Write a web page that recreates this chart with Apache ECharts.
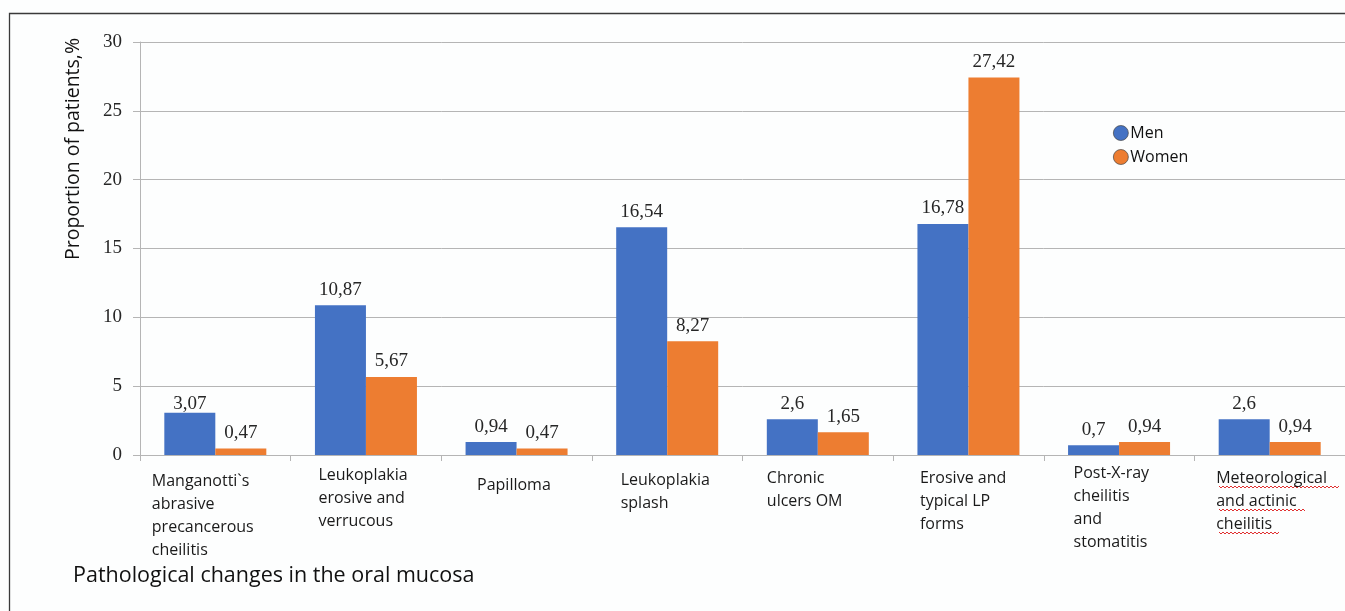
<!DOCTYPE html>
<html>
<head>
<meta charset="utf-8">
<title>Pathological changes in the oral mucosa</title>
<script src="https://cdn.jsdelivr.net/npm/echarts/dist/echarts.min.js"></script>
<style>
  html, body { margin: 0; padding: 0; background: #fdfefe; }
  #chart { width: 1345px; height: 611px; }
</style>
</head>
<body>
<div id="chart"></div>
<script>
// Share of patients (%) by pathological change of the oral mucosa
const categories = [
  "Manganotti`s\nabrasive\nprecancerous\ncheilitis",
  "Leukoplakia\nerosive and\nverrucous",
  "Papilloma",
  "Leukoplakia\nsplash",
  "Chronic\nulcers OM",
  "Erosive and\ntypical LP\nforms",
  "Post-X-ray\ncheilitis\nand\nstomatitis",
  "Meteorological\nand actinic\ncheilitis"
];
const menValues   = [3.07, 10.87, 0.94, 16.54, 2.6, 16.78, 0.7, 2.6];
const womenValues = [0.47, 5.67, 0.47, 8.27, 1.65, 27.42, 0.94, 0.94];
const seriesNames = ["Men", "Women"];
const yTicks = [0, 5, 10, 15, 20, 25, 30];

// per-category label block width and extra top offset (px)
const labelBoxWidth = [127, 95, 79, 93, 102, 97, 91, 107];
const labelTopShift = [8, 2, 12, 7, 5, 5, 0, 5];

const SANS = "'Open Sans', 'Noto Sans', sans-serif";
const SERIF = "'Liberation Serif', 'DejaVu Serif', serif";
const GRID_COLOR = "#b5b5b5";

const rich = {};
categories.forEach((c, i) => {
  rich["c" + i] = {
    width: labelBoxWidth[i], align: "left", fontFamily: SANS, fontSize: 16,
    color: "#1a1a1a", lineHeight: 23
  };
  rich["s" + i] = {
    width: labelBoxWidth[i], fontSize: 1, lineHeight: labelTopShift[i], height: labelTopShift[i]
  };
});

const fmtValue = v => String(v).replace(".", ",");

const valueLabel = {
  show: true, position: "top", distance: 6,
  fontFamily: SERIF, fontSize: 19, color: "#262626",
  formatter: p => fmtValue(p.value)
};

// the first men's label sits closer to its bar
const menData = menValues.map((v, i) => i === 0 ? { value: v, label: { distance: -1 } } : v);

// red spell-check underline under the last category label
function wavy(x0, x1, y) {
  const pts = [];
  let up = true;
  for (let x = x0; x <= x1; x += 2) { pts.push([x, up ? y - 1 : y + 1]); up = !up; }
  return {
    type: "polyline", silent: true, shape: { points: pts },
    style: { stroke: "#e03030", lineWidth: 1, fill: null }
  };
}

const chart = echarts.init(document.getElementById("chart"), null, { renderer: "canvas" });
chart.setOption({
  backgroundColor: "#fdfefe",
  animation: false,
  title: {
    text: "Pathological changes in the oral mucosa",
    left: 68, top: 560,
    textStyle: { fontFamily: SANS, fontSize: 21.5, fontWeight: "normal", color: "#111" }
  },
  legend: {
    orient: "vertical", left: 1108, top: 120,
    itemWidth: 15, itemHeight: 15, itemGap: 8,
    icon: "circle",
    itemStyle: { borderColor: "#444", borderWidth: 0.7 },
    textStyle: { fontFamily: SANS, fontSize: 16, color: "#111", padding: [0, 0, 0, -3] },
    data: seriesNames
  },
  grid: { left: 140, top: 42, width: 1208, height: 413, containLabel: false },
  xAxis: {
    type: "category",
    data: categories,
    axisLine: { show: true, lineStyle: { color: GRID_COLOR, width: 1 } },
    axisTick: { show: true, length: 6, alignWithLabel: false, lineStyle: { color: GRID_COLOR } },
    splitLine: { show: false },
    axisLabel: {
      interval: 0, margin: 7, verticalAlign: "top",
      rich: rich,
      formatter: (val, idx) =>
        (labelTopShift[idx] > 0 ? "{s" + idx + "| }\n" : "") +
        val.split("\n").map(line => "{c" + idx + "|" + line + "}").join("\n")
    }
  },
  yAxis: {
    type: "value",
    min: 0, max: 30, interval: 5,
    axisLine: { show: true, lineStyle: { color: GRID_COLOR, width: 1 } },
    axisTick: { show: true, length: 7, lineStyle: { color: GRID_COLOR } },
    splitLine: { show: true, lineStyle: { color: GRID_COLOR, width: 1 } },
    axisLabel: {
      margin: 18, fontFamily: SERIF, fontSize: 19, color: "#262626",
      formatter: v => yTicks.includes(v) ? String(v) : ""
    }
  },
  series: [
    {
      name: seriesNames[0], type: "bar", data: menData,
      barWidth: 51, barGap: "0%",
      itemStyle: { color: "#4472c4" },
      label: valueLabel
    },
    {
      name: seriesNames[1], type: "bar", data: womenValues,
      barWidth: 51, barGap: "0%",
      itemStyle: { color: "#ed7d31" },
      label: valueLabel
    }
  ],
  graphic: [
    {
      type: "rect", silent: true,
      shape: { x: 9.5, y: 13.5, width: 1360, height: 620 },
      style: { fill: null, stroke: "#3a3a3a", lineWidth: 1.3 }
    },
    {
      type: "text", silent: true,
      x: 73, y: 149, rotation: Math.PI / 2,
      style: {
        text: "Proportion of patients,%", fontFamily: SANS, fontSize: 19.5,
        fill: "#111", align: "center", verticalAlign: "middle"
      }
    },
    wavy(1219, 1340, 487),
    wavy(1219, 1305, 510),
    wavy(1219, 1279, 533)
  ]
});
</script>
</body>
</html>
